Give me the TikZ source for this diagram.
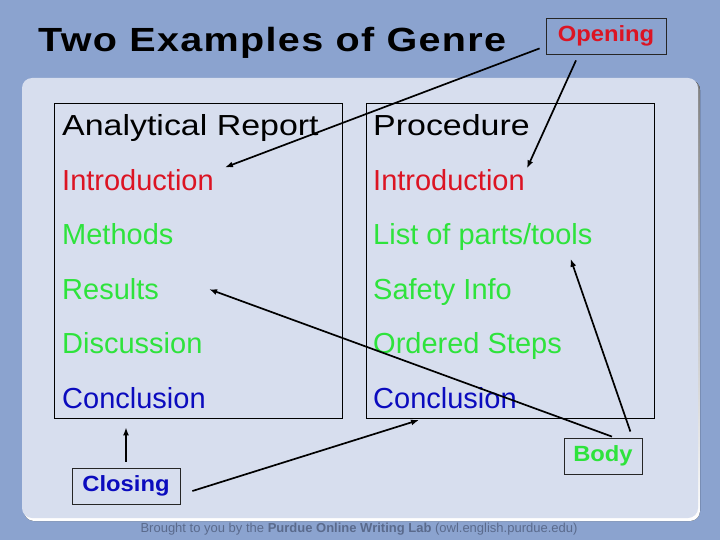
\documentclass[tikz,border=0pt]{standalone}
\usepackage{fontspec}
\setmainfont{Liberation Sans}
\usetikzlibrary{arrows.meta, positioning, calc}
\definecolor{slide}{HTML}{8BA3CF}
\definecolor{panel}{HTML}{D7DEEE}
\definecolor{shade}{HTML}{6F87B5}
\definecolor{introred}{HTML}{DC1423}
\definecolor{bodygreen}{HTML}{2EE33C}
\definecolor{closeblue}{HTML}{0B0BBE}
\definecolor{footgrey}{HTML}{5A6A8C}
\tikzset{
  frame/.style={rectangle, draw=black, line width=0.8pt, inner sep=0pt, minimum width=288pt, minimum height=315pt},
  row/.style={inner sep=0pt, font=\fontsize{29}{32}\selectfont, text height=21pt, text depth=6pt},
  head/.style={row, text=black, font=\fontsize{29}{32}\selectfont\addfontfeature{FakeStretch=1.17}},
  next/.style={row, below=27pt of #1.south west, anchor=north west},
  tag/.style={rectangle, draw=black!85, line width=0.8pt, inner sep=0pt, minimum height=36pt, font=\fontsize{22}{24}\selectfont\bfseries\addfontfeature{FakeStretch=1.08}},
  arrow/.style={-{Latex[length=8pt,width=6pt]}, line width=1.7pt},
}
\begin{document}
\begin{tikzpicture}[x=1pt, y=-1pt]
  \useasboundingbox (0,0) rectangle (720,540);
  \fill[slide] (0,0) rectangle (720,540);
  \fill[shade, rounded corners=10pt] (24,80) rectangle (700,521);
  \fill[panel, rounded corners=10pt] (22,78) rectangle (698,518);
  \node[anchor=base west, inner sep=0pt, font=\fontsize{33.5}{36}\selectfont\bfseries\addfontfeature{FakeStretch=1.18,LetterSpace=4}] (title) at (38,52) {Two Examples of Genre};
  \node[tag, minimum width=120pt, text=introred] (opening) at (606,36) {Opening};
  % the two genres
  \node[frame] (boxA) at (198,260.5) {};
  \node[frame] (boxB) at (510,260.5) {};
  \node[head, anchor=base west] (headA) at (62,136) {Analytical Report};
  \node[next=headA, text=introred] (introA) {Introduction};
  \node[next=introA, text=bodygreen] (methA) {Methods};
  \node[next=methA, text=bodygreen] (resA) {Results};
  \node[next=resA, text=bodygreen] (discA) {Discussion};
  \node[next=discA, text=closeblue] (conclA) {Conclusion};
  \node[head, anchor=base west] (headB) at (373,136) {Procedure};
  \node[next=headB, text=introred] (introB) {Introduction};
  \node[next=introB, text=bodygreen] (listB) {List of parts/tools};
  \node[next=listB, text=bodygreen] (safeB) {Safety Info};
  \node[next=safeB, text=bodygreen] (stepB) {Ordered Steps};
  \node[next=stepB, text=closeblue] (conclB) {Conclusion};
  \node[tag, minimum width=108pt, text=closeblue] (closing) at (126,486) {Closing};
  \node[tag, minimum width=78pt, text=bodygreen] (body) at (603,456) {Body};
  \node[font=\fontsize{13}{15}\selectfont, text=footgrey, inner sep=0pt] (foot) at (359,529) {Brought to you by the \textbf{Purdue Online Writing Lab} (owl.english.purdue.edu)};
  % pointers
  \draw[arrow] ($(opening.south west)+(-6,-6)$) -- ($(introA.base east)+(11,-23)$);
  \draw[arrow] ($(opening.south)+(-30,6)$) -- ($(introB.base east)+(2,-22)$);
  \draw[arrow] ($(body.north)+(9,-1)$) -- ($(resA.base east)+(50,-10)$);
  \draw[arrow] ($(body.north east)+(-12,-6)$) -- ($(listB.base east)+(-22,14)$);
  \draw[arrow] ($(closing.north)+(0,-6)$) -- ($(closing.north |- boxA.south)+(0,9)$);
  \draw[arrow] ($(closing.east)+(12,5)$) -- ($(conclB.base west)+(46,12)$);
\end{tikzpicture}
\end{document}
